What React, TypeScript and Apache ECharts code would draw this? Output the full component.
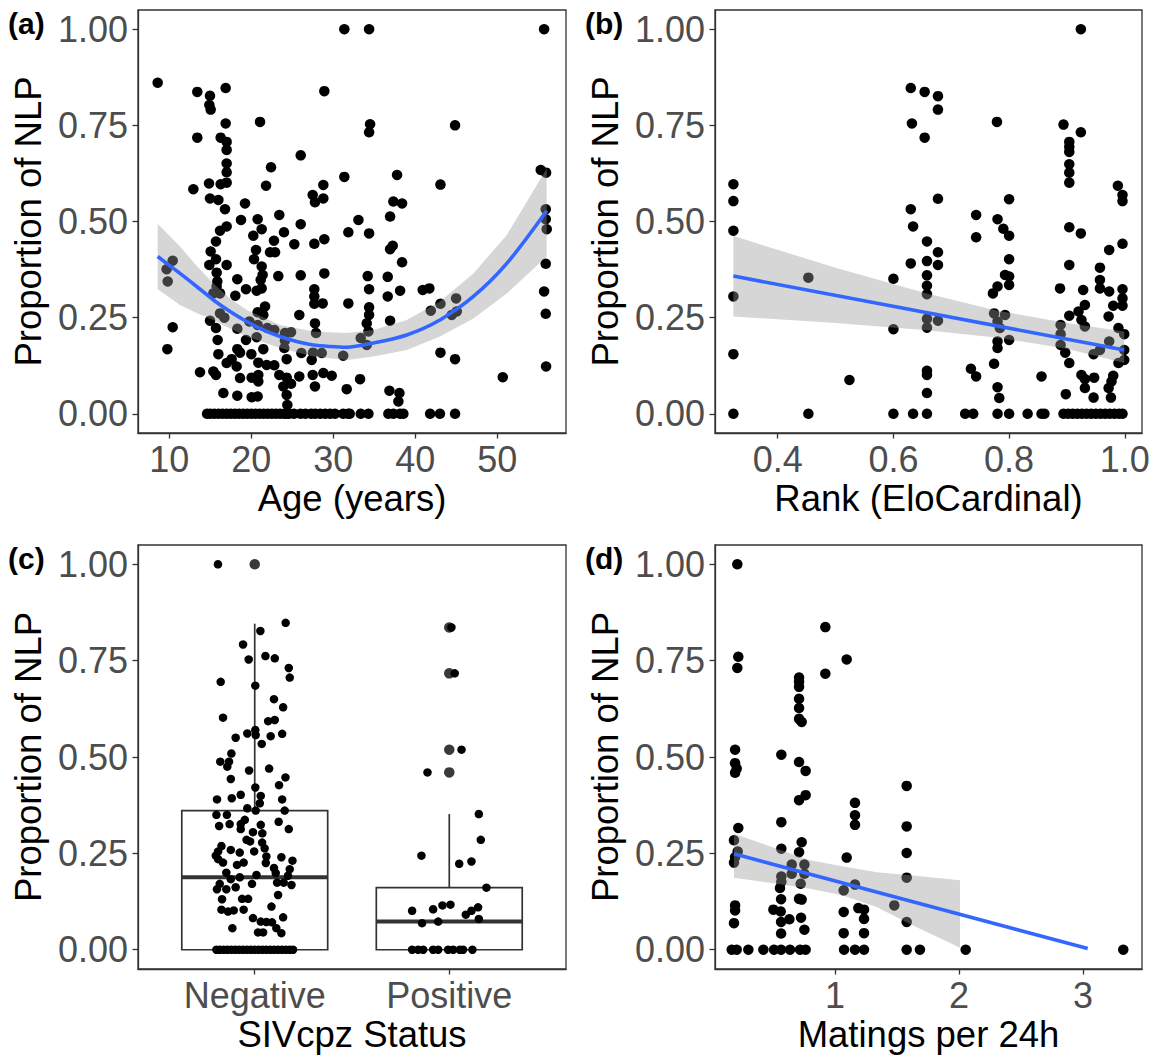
import React, { useEffect, useRef } from "react";
import * as echarts from "echarts";

const FONT = "'Liberation Sans', Arial, Helvetica, sans-serif";

// ---------- tick values ----------
const yTicks = [0, 0.25, 0.5, 0.75, 1];
const ageTicks = [10, 20, 30, 40, 50];
const rankTicks = [0.4, 0.6, 0.8, 1.0];
const statusTicks = [1, 2];
const statusNames = ["Negative", "Positive"];
const matingTicks = [1, 2, 3];

// ---------- panel (a): age vs proportion ----------
const agePoints: number[][] = [
  [8.58,0.861],[13.41,0.837],[14.96,0.827],[14.88,0.803],[15.04,0.791],[16.87,0.847],[28.9,0.839],[31.34,1.0],[21.06,0.759],[16.87,0.755],[13.41,0.718],[16.26,0.718],[16.99,0.707],[16.99,0.686],[26.02,0.672],[16.99,0.651],[22.4,0.641],[16.99,0.628],[31.34,0.616],[14.84,0.599],[16.26,0.597],[16.99,0.601],[12.93,0.584],[21.79,0.593],[28.78,0.595],[27.48,0.569],[27.76,0.55],[28.78,0.56],[14.96,0.56],[15.98,0.556],[16.79,0.532],[19.23,0.547],[18.74,0.504],[20.77,0.506],[23.41,0.517],[26.02,0.493],[21.26,0.48],[16.99,0.487],[16.18,0.476],[20.24,0.463],[23.98,0.472],[22.76,0.45],[31.83,0.472],[15.69,0.448],[25.24,0.441],[27.68,0.442],[28.9,0.454],[20.57,0.426],[15.04,0.422],[22.28,0.42],[22.89,0.42],[20.33,0.402],[15.69,0.402],[10.41,0.398],[14.88,0.387],[16.99,0.387],[9.67,0.376],[21.26,0.383],[15.77,0.367],[21.38,0.361],[23.29,0.358],[26.02,0.36],[28.9,0.365],[9.8,0.344],[18.29,0.35],[15.85,0.344],[21.14,0.348],[15.77,0.331],[19.35,0.324],[20.65,0.32],[21.26,0.326],[27.68,0.324],[15.37,0.313],[16.18,0.313],[18.05,0.307],[27.68,0.305],[27.68,0.286],[28.7,0.287],[31.83,0.287],[21.67,0.279],[16.18,0.261],[16.71,0.25],[20.77,0.264],[21.46,0.257],[25.85,0.257],[10.41,0.225],[14.96,0.242],[15.69,0.223],[18.29,0.221],[19.76,0.24],[20.77,0.231],[21.95,0.223],[22.8,0.218],[24.1,0.21],[24.84,0.212],[27.76,0.235],[27.89,0.21],[15.89,0.192],[19.35,0.192],[20.65,0.199],[24.1,0.19],[9.76,0.168],[18.29,0.168],[21.46,0.168],[20.0,0.155],[15.98,0.155],[18.62,0.159],[26.1,0.158],[27.52,0.159],[28.58,0.158],[31.2,0.151],[24.02,0.171],[16.99,0.132],[17.6,0.142],[18.21,0.123],[20.85,0.133],[21.87,0.127],[22.8,0.126],[24.31,0.142],[27.36,0.14],[13.74,0.108],[15.37,0.11],[15.69,0.101],[18.62,0.093],[20.04,0.094],[20.85,0.101],[23.41,0.101],[24.31,0.094],[25.85,0.097],[27.48,0.101],[28.78,0.106],[29.8,0.099],[20.85,0.084],[23.9,0.071],[24.84,0.078],[27.76,0.071],[31.63,0.064],[16.59,0.054],[18.29,0.047],[20.04,0.043],[20.77,0.045],[24.31,0.049],[24.39,0.023],
  [34.36,1.0],[55.7,1.0],[34.48,0.753],[34.36,0.732],[44.84,0.75],[37.77,0.621],[43.06,0.596],[55.29,0.634],[55.94,0.627],[37.32,0.552],[38.38,0.547],[33.06,0.504],[36.92,0.513],[34.36,0.469],[37.24,0.437],[36.92,0.428],[38.38,0.394],[55.9,0.532],[55.9,0.506],[56.02,0.48],[55.9,0.39],[55.7,0.318],[55.9,0.26],[55.94,0.123],[34.19,0.358],[36.63,0.356],[34.36,0.324],[38.14,0.32],[36.63,0.305],[34.36,0.277],[34.36,0.257],[34.07,0.235],[36.92,0.242],[34.28,0.214],[33.34,0.197],[34.07,0.179],[40.9,0.322],[41.71,0.326],[41.88,0.268],[43.06,0.286],[44.97,0.3],[44.44,0.257],[45.05,0.266],[33.26,0.09],[36.84,0.06],[38.06,0.054],[37.93,0.032],[43.06,0.159],[44.84,0.142],[50.66,0.095],
];
const ageZeros = [14.6,15.0,15.5,16.0,16.5,17.0,17.5,18.0,18.5,19.0,19.5,20.0,20.5,21.0,21.5,22.0,22.5,23.0,23.5,24.0,24.3,24.6,25.2,26.0,26.6,27.3,27.8,28.4,29.0,29.6,30.2,31.2,31.8,32.0,33.34,34.28,36.71,37.32,38.14,38.54,41.8,43.0,44.84];
const ageFitX = [8.58,11.3,13.33,15.37,17.4,19.43,21.46,23.5,25.53,27.56,29.6,31.63,34.89,38.95,43.0,47.08,51.15,56.02];
const ageFitY = [0.409,0.365,0.331,0.296,0.266,0.240,0.218,0.201,0.188,0.179,0.175,0.173,0.184,0.205,0.244,0.305,0.391,0.528];
const ageBandX = [8.58,11.3,13.33,15.37,17.4,19.43,23.5,27.56,31.63,34.89,38.95,43.0,47.08,51.15,56.02];
const ageBandLo = [0.324,0.283,0.262,0.244,0.222,0.201,0.171,0.149,0.140,0.149,0.166,0.201,0.248,0.313,0.409];
const ageBandHi = [0.494,0.435,0.385,0.339,0.300,0.270,0.231,0.214,0.210,0.218,0.244,0.292,0.365,0.465,0.638];

// ---------- panel (b): rank vs proportion ----------
const rankPoints: number[][] = [
  [0.3234,0.597],[0.3234,0.553],[0.3234,0.476],[0.3234,0.305],[0.3234,0.155],[0.3234,0],[0.453,0.354],[0.453,0],[0.524,0.088],[0.6,0.351],[0.6,0.22],[0.6,0],[0.63,0.847],[0.654,0.837],[0.632,0.755],[0.654,0.718],[0.63,0.532],[0.634,0.487],[0.63,0.391],[0.634,0],[0.658,0.448],[0.658,0.397],[0.658,0.36],[0.658,0.333],[0.658,0.311],[0.658,0.247],[0.658,0.224],[0.658,0.112],[0.658,0.101],[0.658,0.054],[0.658,0],
  [0.677,0.826],[0.677,0.791],[0.677,0.559],[0.677,0.42],[0.677,0.387],[0.677,0.242],[0.743,0.517],[0.743,0.459],[0.734,0.117],[0.743,0.097],[0.724,0],[0.738,0],[0.779,0.759],[0.8,0.558],[0.78,0.506],[0.79,0.481],[0.8,0.463],[0.8,0.402],[0.793,0.361],[0.8,0.357],[0.8,0.335],[0.78,0.331],[0.772,0.313],[0.774,0.261],[0.793,0.257],[0.78,0.24],[0.784,0.223],[0.8,0.192],[0.78,0.188],[0.78,0.171],[0.774,0.13],[0.78,0.069],[0.783,0.041],[0.78,0],[0.8,0],[0.832,0],[0.856,0],[0.861,0],[0.856,0.097],
  [0.894,0.752],[0.924,1.0],[0.924,0.732],[0.904,0.707],[0.904,0.694],[0.904,0.681],[0.904,0.649],[0.904,0.627],[0.904,0.601],[0.904,0.485],[0.924,0.469],[0.904,0.387],[0.888,0.326],[0.928,0.322],[0.931,0.283],[0.904,0.255],[0.92,0.266],[0.925,0.244],[0.931,0.227],[0.889,0.231],[0.889,0.207],[0.889,0.179],[0.897,0.159],[0.904,0.132],[0.925,0.101],[0.931,0.09],[0.947,0.094],[0.931,0.067],[0.946,0.042],[0.898,0.051],
  [0.957,0.38],[0.957,0.348],[0.957,0.326],[0.973,0.426],[0.988,0.593],[0.996,0.569],[0.996,0.553],[0.996,0.442],[0.973,0.318],[0.996,0.324],[0.996,0.3],[0.996,0.281],[0.98,0.281],[0.972,0.253],[0.989,0.223],[0.999,0.207],[0.973,0.188],[0.957,0.166],[0.946,0.155],[0.999,0.166],[0.999,0.14],[0.989,0.132],[0.98,0.099],[0.977,0.084],[0.972,0.067],[0.976,0.042],
];
const rankZeros = [0.894,0.902,0.91,0.918,0.926,0.934,0.942,0.95,0.958,0.966,0.974,0.982,0.99,0.996];
const rankFitX = [0.3234, 0.999];
const rankFitY = [0.358, 0.166];
const rankBandX = [0.3234,0.5,0.658,0.78,0.9,0.999];
const rankBandLo = [0.253,0.236,0.217,0.198,0.169,0.132];
const rankBandHi = [0.462,0.38,0.313,0.268,0.236,0.214];

// ---------- panel (c): SIVcpz status ----------
// [position, low whisker, Q1, median, Q3, high whisker]
const statusBoxes: number[][] = [
  [1, 0, 0, 0.188, 0.361, 0.846],
  [2, 0, 0, 0.0734, 0.161, 0.352],
];
const statusOutliers: number[][] = [
  [1, 1.0], [2, 0.836], [2, 0.717], [2, 0.519], [2, 0.46],
];
const negativeJitter: number[][] = [
  [0.811,1.0],[1.159,0.848],[1.029,0.827],[0.94,0.792],[0.969,0.753],[1.055,0.762],[1.103,0.756],[1.175,0.731],[1.18,0.706],[0.825,0.695],[1.003,0.685],[1.099,0.65],[1.146,0.629],[0.837,0.602],[1.069,0.593],[1.103,0.596],[0.962,0.561],[1.003,0.57],[1.005,0.557],[1.141,0.56],[1.082,0.554],[0.902,0.55],[1.036,0.534],[0.88,0.509],[0.823,0.488],[0.868,0.488],[0.859,0.475],[0.971,0.465],[1.074,0.47],[1.158,0.447],[0.877,0.443],[1.125,0.427],[1.003,0.421],[0.806,0.39],[0.882,0.393],[0.928,0.402],[1.031,0.399],[1.141,0.39],[1.026,0.38],[0.962,0.367],[1.005,0.361],[1.154,0.361],[0.803,0.35],[0.857,0.35],[0.949,0.337],[0.928,0.326],[0.817,0.321],[0.871,0.326],[1.031,0.324],[1.123,0.332],[1.175,0.313],[0.928,0.313],[0.991,0.305],[1.039,0.302],[0.958,0.285],[0.976,0.281],[1.038,0.278],[1.051,0.263],[0.829,0.269],[0.812,0.255],[0.877,0.259],[0.923,0.252],[0.997,0.255],[1.137,0.24],[1.06,0.242],[0.8,0.244],[0.812,0.235],[1.194,0.231],[0.837,0.226],[1.057,0.225],[0.943,0.226],[0.909,0.22],[1.099,0.212],[1.18,0.209],[0.854,0.2],[1.108,0.199],[1.009,0.194],[1.171,0.192],[0.877,0.183],[0.923,0.188],[0.82,0.171],[0.986,0.171],[1.115,0.174],[1.149,0.174],[1.189,0.168],[0.806,0.157],[0.854,0.157],[0.902,0.162],[1.12,0.142],[0.832,0.131],[0.935,0.132],[0.966,0.132],[1.086,0.112],[0.829,0.104],[0.863,0.099],[0.892,0.102],[0.943,0.104],[0.991,0.082],[1.146,0.084],[1.031,0.073],[1.06,0.072],[1.089,0.071],[1.111,0.056],[0.885,0.056],[1.017,0.045],[1.043,0.045],[1.137,0.043],
];
const negativeZeros = [0.803,0.82,0.84,0.86,0.88,0.9,0.92,0.94,0.96,0.98,1.0,1.02,1.04,1.06,1.08,1.1,1.12,1.14,1.16,1.18,1.197];
const positiveJitter: number[][] = [
  [2.011,0.836],[2.028,0.717],[2.063,0.519],[1.888,0.46],[2.152,0.352],[2.162,0.285],[1.857,0.244],[2.051,0.223],[2.114,0.229],[2.191,0.161],[1.809,0.101],[1.917,0.105],[1.965,0.115],[2.006,0.117],[2.085,0.091],[2.114,0.101],[2.148,0.11],[2.152,0.08],[1.86,0.069],[1.943,0.073],
];
const positiveZeros = [1.809,1.84,1.866,1.917,1.943,1.994,2.02,2.054,2.071,2.119];

// ---------- panel (d): matings per 24h ----------
const matingPoints: number[][] = [
  [0.212,1.0],[0.22,0.76],[0.212,0.731],[0.922,0.837],[0.922,0.716],[1.094,0.753],[0.71,0.706],[0.71,0.695],[0.71,0.682],[0.71,0.651],[0.71,0.627],[0.71,0.599],[0.731,0.591],[0.194,0.519],[0.194,0.484],[0.207,0.47],[0.194,0.459],[0.567,0.506],[0.71,0.487],[0.763,0.464],[0.763,0.401],[0.71,0.388],[1.578,0.425],[1.161,0.381],[1.161,0.349],[1.161,0.324],[0.22,0.316],[1.578,0.32],[0.567,0.331],[0.185,0.284],[1.578,0.251],[0.731,0.279],[0.71,0.253],[0.567,0.262],[0.215,0.255],[0.194,0.24],[0.185,0.226],[1.094,0.239],[0.651,0.221],[0.753,0.221],[0.651,0.197],[0.753,0.197],[0.567,0.19],[0.567,0.176],[0.556,0.16],[0.723,0.171],[1.578,0.187],[1.161,0.169],[1.07,0.154],[0.71,0.132],[0.731,0.13],[0.565,0.131],[0.194,0.115],[0.194,0.102],[0.185,0.069],[0.503,0.104],[0.562,0.099],[0.632,0.079],[0.565,0.072],[0.565,0.042],[0.726,0.083],[0.753,0.052],[1.188,0.108],[1.234,0.104],[1.234,0.08],[1.07,0.098],[1.07,0.043],[1.234,0.043],[1.478,0.115],[1.578,0.072],
];
const matingZeros = [0.167,0.207,0.301,0.422,0.508,0.565,0.637,0.718,0.763,1.073,1.161,1.234,1.578,1.685,2.054,3.325];
const matingFitX = [0.185, 3.038];
const matingFitY = [0.249, 0.003];
const matingBandX = [0.185,0.53,0.798,1.067,1.336,1.605,2.008];
const matingBandLo = [0.187,0.171,0.158,0.141,0.111,0.067,0.005];
const matingBandHi = [0.301,0.262,0.232,0.216,0.201,0.193,0.18];

// ---------- styling constants ----------
const AXIS_COLOR = "#333333";
const TICK_TEXT = "#4D4D4D";
const BAND_FILL = "rgba(153,153,153,0.4)";
const FIT_COLOR = "#3366FF";
const BOX_WIDTH = 0.75;

const gridDefs = [
  { left: 138, top: 10, width: 428, height: 423 },
  { left: 715, top: 10, width: 427, height: 423 },
  { left: 138, top: 545, width: 428, height: 424 },
  { left: 715, top: 545, width: 427, height: 424 },
];

function xAxis(i: number, min: number, max: number, ticks: number[], name: string, fmt: (v: number) => string) {
  return {
    type: "value", gridIndex: i, min, max,
    name, nameLocation: "middle", nameGap: 47,
    nameTextStyle: { fontSize: 36.5, color: "#000", fontFamily: FONT },
    axisLine: { show: true, onZero: false, lineStyle: { color: AXIS_COLOR, width: 1.3 } },
    axisTick: { show: true, length: 5.5, customValues: ticks, lineStyle: { color: AXIS_COLOR, width: 1.3 } },
    axisLabel: { show: true, customValues: ticks, formatter: fmt, fontSize: 36, color: TICK_TEXT, margin: 8, fontFamily: FONT },
    splitLine: { show: false },
  };
}

function yAxis(i: number) {
  return {
    type: "value", gridIndex: i, min: -0.05, max: 1.05,
    name: "Proportion of NLP", nameLocation: "middle", nameGap: 91,
    nameTextStyle: { fontSize: 36.5, color: "#000", fontFamily: FONT },
    axisLine: { show: true, onZero: false, lineStyle: { color: AXIS_COLOR, width: 1.3 } },
    axisTick: { show: true, length: 5.5, customValues: yTicks, lineStyle: { color: AXIS_COLOR, width: 1.3 } },
    axisLabel: { show: true, customValues: yTicks, formatter: (v: number) => v.toFixed(2), fontSize: 36, color: TICK_TEXT, margin: 10, fontFamily: FONT },
    splitLine: { show: false },
  };
}

function scatter(i: number, data: number[][], size: number, color = "#000") {
  return {
    type: "scatter", xAxisIndex: i, yAxisIndex: i, data,
    symbol: "circle", symbolSize: size, itemStyle: { color, opacity: 1 },
    silent: true, z: 2,
  };
}

function band(i: number, xs: number[], lo: number[], hi: number[]) {
  return {
    type: "custom", xAxisIndex: i, yAxisIndex: i,
    data: [[xs[0], lo[0]]], encode: { x: 0, y: 1 }, silent: true, z: 3,
    renderItem: (_p: any, api: any) => {
      const top = xs.map((x, k) => api.coord([x, hi[k]]));
      const bottom = xs.map((x, k) => api.coord([x, lo[k]])).reverse();
      return { type: "polygon", shape: { points: top.concat(bottom) }, style: { fill: BAND_FILL } };
    },
  };
}

function fit(i: number, xs: number[], ys: number[]) {
  return {
    type: "line", xAxisIndex: i, yAxisIndex: i,
    data: xs.map((x, k) => [x, ys[k]]), symbol: "none", smooth: 0.3,
    lineStyle: { color: FIT_COLOR, width: 3.6 }, silent: true, z: 4,
  };
}

export default function App() {
  const ref = useRef<HTMLDivElement>(null);
  useEffect(() => {
    const chart = echarts.init(ref.current!, null, { renderer: "svg" });
    const boxSeries = {
      type: "custom", xAxisIndex: 2, yAxisIndex: 2, data: statusBoxes,
      encode: { x: 0, y: [1, 2, 3, 4, 5] }, silent: true, z: 1,
      renderItem: (_p: any, api: any) => {
        const x = api.value(0), lo = api.value(1), q1 = api.value(2), med = api.value(3), q3 = api.value(4), hi = api.value(5);
        const hw = BOX_WIDTH / 2;
        const tl = api.coord([x - hw, q3]);
        const br = api.coord([x + hw, q1]);
        const ml = api.coord([x - hw, med]);
        const mr = api.coord([x + hw, med]);
        const wt = api.coord([x, hi]);
        const w3 = api.coord([x, q3]);
        const wb = api.coord([x, lo]);
        const w1 = api.coord([x, q1]);
        const st = { stroke: AXIS_COLOR, lineWidth: 1.7, fill: null };
        return {
          type: "group",
          children: [
            { type: "line", shape: { x1: w3[0], y1: w3[1], x2: wt[0], y2: wt[1] }, style: st },
            { type: "line", shape: { x1: w1[0], y1: w1[1], x2: wb[0], y2: wb[1] }, style: st },
            { type: "rect", shape: { x: tl[0], y: tl[1], width: br[0] - tl[0], height: br[1] - tl[1] }, style: { stroke: AXIS_COLOR, lineWidth: 1.7, fill: "#fff" } },
            { type: "line", shape: { x1: ml[0], y1: ml[1], x2: mr[0], y2: mr[1] }, style: { stroke: AXIS_COLOR, lineWidth: 4 } },
          ],
        };
      },
    };

    const labelStyle = (text: string) => ({
      text, font: `bold 30px ${FONT}`, fill: "#000",
      align: "left", verticalAlign: "middle", textAlign: "left", textVerticalAlign: "middle",
    });

    const option: any = {
      animation: false,
      backgroundColor: "#fff",
      textStyle: { fontFamily: FONT },
      grid: gridDefs.map((g) => ({ ...g, show: true, borderColor: AXIS_COLOR, borderWidth: 1.3, backgroundColor: "#fff", containLabel: false })),
      xAxis: [
        xAxis(0, 6.18, 58.37, ageTicks, "Age (years)", (v) => String(v)),
        xAxis(1, 0.2916, 1.0297, rankTicks, "Rank (EloCardinal)", (v) => v.toFixed(1)),
        xAxis(2, 0.4, 2.6, statusTicks, "SIVcpz Status", (v) => statusNames[Math.round(v) - 1] || ""),
        xAxis(3, 0.032, 3.476, matingTicks, "Matings per 24h", (v) => String(v)),
      ],
      yAxis: [yAxis(0), yAxis(1), yAxis(2), yAxis(3)],
      series: [
        scatter(0, agePoints.concat(ageZeros.map((a) => [a, 0])), 10.5),
        band(0, ageBandX, ageBandLo, ageBandHi),
        fit(0, ageFitX, ageFitY),
        scatter(1, rankPoints.concat(rankZeros.map((r) => [r, 0])), 10.5),
        band(1, rankBandX, rankBandLo, rankBandHi),
        fit(1, rankFitX, rankFitY),
        boxSeries,
        scatter(2, statusOutliers, 10.5, "#3a3a3a"),
        scatter(2, negativeJitter.concat(negativeZeros.map((x) => [x, 0])), 8.5),
        scatter(2, positiveJitter.concat(positiveZeros.map((x) => [x, 0])), 8.5),
        scatter(3, matingPoints.concat(matingZeros.map((m) => [m, 0])), 10.5),
        band(3, matingBandX, matingBandLo, matingBandHi),
        fit(3, matingFitX, matingFitY),
      ],
      graphic: [
        { type: "text", x: 8, y: 23, style: labelStyle("(a)") },
        { type: "text", x: 585, y: 23, style: labelStyle("(b)") },
        { type: "text", x: 8, y: 558, style: labelStyle("(c)") },
        { type: "text", x: 585, y: 558, style: labelStyle("(d)") },
      ],
    };
    chart.setOption(option);
    return () => chart.dispose();
  }, []);
  return (
    <div
      ref={ref}
      style={{ position: "absolute", left: 0, top: 0, width: 1161, height: 1055, background: "#fff" }}
    />
  );
}
